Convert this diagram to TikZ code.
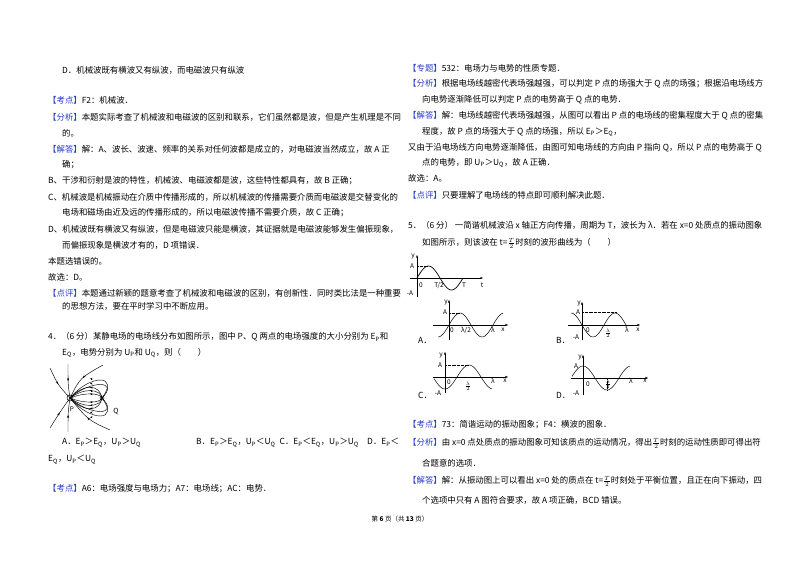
\documentclass[tikz,border=0pt]{standalone}
\usepackage{fontspec}
\setmainfont{Noto Sans CJK SC}
\usetikzlibrary{decorations.markings,arrows.meta}
\definecolor{lblue}{RGB}{40,60,200}
\tikzset{
  tl/.style={anchor=west,inner sep=0pt,font=\fontsize{8.4}{10}\selectfont},
  ax/.style={-{Stealth[length=3pt]},line width=0.5pt},
  wv/.style={line width=0.7pt},
  sm/.style={font=\fontsize{6.5}{7}\selectfont,inner sep=0.5pt},
  fl/.style={line width=0.45pt},
  fla/.style={line width=0.45pt,postaction={decorate},decoration={markings,mark=at position 0.5 with {\arrow{Stealth[length=3pt]}}}}
}
\newcommand{\tg}[1]{\textcolor{lblue}{【#1】}}
\newcommand{\hf}{\raisebox{0pt}[6pt][2pt]{$\frac{T}{2}$}}
\begin{document}
\begin{tikzpicture}[x=1pt,y=-1pt]
\useasboundingbox[fill=white] (0,0) rectangle (800,565);
% left column
\node[tl] (l1) at (62,70) {D．机械波既有横波又有纵波，而电磁波只有纵波};
\node[tl] (l2) at (48,100) {\tg{考点}F2：机械波．};
\node[tl] (l3) at (48,117) {\tg{分析}本题实际考查了机械波和电磁波的区别和联系，它们虽然都是波，但是产生机理是不同};
\node[tl] (l4) at (62,133) {的。};
\node[tl] (l5) at (48,149) {\tg{解答}解：A、波长、波速、频率的关系对任何波都是成立的，对电磁波当然成立，故 A 正};
\node[tl] (l6) at (62,165) {确；};
\node[tl] (l7) at (48,181) {B、干涉和衍射是波的特性，机械波、电磁波都是波，这些特性都具有，故 B 正确；};
\node[tl] (l8) at (48,197) {C、机械波是机械振动在介质中传播形成的，所以机械波的传播需要介质而电磁波是交替变化的};
\node[tl] (l9) at (62,213) {电场和磁场由近及远的传播形成的，所以电磁波传播不需要介质，故 C 正确；};
\node[tl] (l10) at (48,229) {D、机械波既有横波又有纵波，但是电磁波只能是横波，其证据就是电磁波能够发生偏振现象，};
\node[tl] (l11) at (62,245) {而偏振现象是横波才有的，D 项错误．};
\node[tl] (l12) at (48,261) {本题选错误的。};
\node[tl] (l13) at (48,277) {故选：D。};
\node[tl] (l14) at (48,293) {\tg{点评}本题通过新颖的题意考查了机械波和电磁波的区别，有创新性．同时类比法是一种重要};
\node[tl] (l15) at (62,306) {的思想方法，要在平时学习中不断应用。};
\node[tl] (l16) at (48,337) {4．（6 分）某静电场的电场线分布如图所示，图中 P、Q 两点的电场强度的大小分别为 E$_\mathrm{P}$和};
\node[tl] (l17) at (62,353) {E$_\mathrm{Q}$，电势分别为 U$_\mathrm{P}$和 U$_\mathrm{Q}$，则（\quad\quad）};
\node[tl] (l18) at (62,443) {A．E$_\mathrm{P}$＞E$_\mathrm{Q}$，U$_\mathrm{P}$＞U$_\mathrm{Q}$};
\node[tl] (l19) at (196,443) {B．E$_\mathrm{P}$＞E$_\mathrm{Q}$，U$_\mathrm{P}$＜U$_\mathrm{Q}$\enspace C．E$_\mathrm{P}$＜E$_\mathrm{Q}$，U$_\mathrm{P}$＞U$_\mathrm{Q}$\quad D．E$_\mathrm{P}$＜};
\node[tl] (l20) at (48,460) {E$_\mathrm{Q}$，U$_\mathrm{P}$＜U$_\mathrm{Q}$};
\node[tl] (l21) at (48,489) {\tg{考点}A6：电场强度与电场力；A7：电场线；AC：电势．};
% field lines figure
\coordinate (qa) at (70,398);
\coordinate (qb) at (102,398);
\draw[fill=white,line width=0.5pt] (qa) circle (3);
\draw[fill=white,line width=0.5pt] (qb) circle (2);
\draw[fla] (50,368) .. controls (58,385) .. (qa);
\draw[fla] (68,364) .. controls (68,385) .. (qa);
\draw[fla] (103,365) .. controls (80,378) .. (qa);
\draw[fla] (50,428) .. controls (60,412) .. (qa);
\draw[fla] (68,432) .. controls (68,412) .. (qa);
\draw[fla] (110,430) .. controls (88,420) .. (qa);
\foreach \h in {5,9,13}{
  \draw[fl] (qa) .. controls (85,398-\h*1.2) and (100,398-\h) .. (qb);
  \draw[fl] (qa) .. controls (85,398+\h*1.2) and (100,398+\h) .. (qb);
}
\foreach \h in {18,24}{
  \draw[fl] (qa) .. controls (90,398-\h) and (120,398-\h) .. (qb);
  \draw[fl] (qa) .. controls (90,398+\h) and (120,398+\h) .. (qb);
}
\foreach \h in {5,9,13,18,24}{
  \draw[-{Stealth[length=2.5pt]},line width=0.3pt] (91,398-\h*0.8) -- (90,398-\h*0.8);
  \draw[-{Stealth[length=2.5pt]},line width=0.3pt] (91,398+\h*0.8) -- (90,398+\h*0.8);
}
\node[sm] (lp) at (72,409) {P};
\node[font=\fontsize{7}{8}\selectfont,inner sep=0pt] (lq) at (116,412) {Q};
% right column
\node[tl] (r1) at (408,68) {\tg{专题}532：电场力与电势的性质专题．};
\node[tl] (r2) at (408,84) {\tg{分析}根据电场线越密代表场强越强，可以判定 P 点的场强大于 Q 点的场强；根据沿电场线方};
\node[tl] (r3) at (422,100) {向电势逐渐降低可以判定 P 点的电势高于 Q 点的电势．};
\node[tl] (r4) at (408,116) {\tg{解答}解：电场线越密代表场强越强，从图可以看出 P 点的电场线的密集程度大于 Q 点的密集};
\node[tl] (r5) at (422,132) {程度，故 P 点的场强大于 Q 点的场强，所以 E$_\mathrm{P}$＞E$_\mathrm{Q}$，};
\node[tl] (r6) at (408,148) {又由于沿电场线方向电势逐渐降低，由图可知电场线的方向由 P 指向 Q，所以 P 点的电势高于 Q};
\node[tl] (r7) at (422,163) {点的电势，即 U$_\mathrm{P}$＞U$_\mathrm{Q}$，故 A 正确．};
\node[tl] (r8) at (408,178) {故选：A。};
\node[tl] (r9) at (408,195) {\tg{点评}只要理解了电场线的特点即可顺利解决此题．};
\node[tl] (r10) at (408,225) {5．（6 分）\ 一简谐机械波沿 x 轴正方向传播，周期为 T，波长为 λ．若在 x=0 处质点的振动图象};
\node[tl] (r11) at (422,243) {如图所示，则该波在 t=\hf 时刻的波形曲线为（\quad\quad）};
% vibration graph
\draw[ax] (410,278) -- (483,278);
\draw[ax] (417,297) -- (417,255);
\draw[wv,domain=417:463,samples=40] plot (\x,{278-12*sin((\x-417)/46*360)});
\draw[densely dotted,line width=0.3pt] (417,266) -- (428,266);
\node[sm] at (413,256) {y};
\node[sm] at (412,266) {A};
\node[sm] at (410,293) {-A};
\node[sm] at (421,285) {0};
\node[sm] at (439,285) {T/2};
\node[sm] at (464,285) {T};
\node[sm] at (482,285) {t};
% graph A
\draw[ax,line width=0.3pt] (433,325) -- (508,325);
\draw[ax,line width=0.3pt] (449,340) -- (449,300);
\draw[line width=0.5pt,domain=438:503,samples=50] plot (\x,{325-12*sin((\x-449)/44*360)});
\draw[densely dotted,line width=0.3pt] (449,313) -- (460,313);
\node[sm] at (446,302) {y};
\node[sm] at (445,312) {A};
\node[sm] at (452,330) {0};
\node[sm] at (466,330) {λ/2};
\node[sm] at (493,330) {λ};
\node[sm] at (503,330) {x};
\node[tl] at (418,340) {A．};
% graph B
\draw[ax,line width=0.3pt] (568,325) -- (640,325);
\draw[ax,line width=0.3pt] (582,340) -- (582,302);
\draw[line width=0.5pt,domain=571:627,samples=50] plot (\x,{325+12*sin((\x-582)/44*360)});
\draw[densely dotted,line width=0.3pt] (582,312) -- (616,312);
\node[sm] at (579,303) {y};
\node[sm] at (578,312) {A};
\node[sm] at (576,337) {-A};
\node[sm] at (588,330) {0};
\node[sm,align=center] at (608,333) {$\frac{\lambda}{2}$};
\node[sm] at (627,330) {λ};
\node[sm] at (638,330) {x};
\node[tl] at (556,340) {B．};
% graph C
\draw[ax,line width=0.3pt] (433,377) -- (508,377);
\draw[ax,line width=0.3pt] (445,393) -- (445,352);
\draw[line width=0.5pt,domain=434:492,samples=50] plot (\x,{377+12*cos((\x-445)/48*360)});
\draw[densely dotted,line width=0.3pt] (445,365) -- (469,365);
\node[sm] at (441,355) {y};
\node[sm] at (440,365) {A};
\node[sm] at (438,393) {-A};
\node[sm] at (449,382) {0};
\node[sm] at (468,386) {$\frac{\lambda}{2}$};
\node[sm] at (493,381) {λ};
\node[sm] at (505,381) {x};
\node[tl] at (418,395) {C．};
% graph D
\draw[ax,line width=0.3pt] (571,378) -- (648,378);
\draw[ax,line width=0.3pt] (583,395) -- (583,355);
\draw[line width=0.5pt,domain=572:630,samples=50] plot (\x,{378-12*cos((\x-583)/48*360)});
\draw[densely dotted,line width=0.3pt] (607,378) -- (607,390);
\node[sm] at (580,357) {y};
\node[sm] at (576,366) {A};
\node[sm] at (576,393) {-A};
\node[sm] at (588,384) {0};
\node[sm] at (608,384) {$\frac{\lambda}{2}$};
\node[sm] at (631,381) {λ};
\node[sm] at (645,381) {x};
\node[tl] at (556,395) {D．};
% right bottom
\node[tl] (r12) at (408,425) {\tg{考点}73：简谐运动的振动图象；F4：横波的图象．};
\node[tl] (r13) at (408,443) {\tg{分析}由 x=0 点处质点的振动图象可知该质点的运动情况，得出\hf 时刻的运动性质即可得出符};
\node[tl] (r14) at (422,463) {合题意的选项．};
\node[tl] (r15) at (408,481) {\tg{解答}解：从振动图上可以看出 x=0 处的质点在 t=\hf 时刻处于平衡位置，且正在向下振动，四};
\node[tl] (r16) at (422,500) {个选项中只有 A 图符合要求，故 A 项正确，BCD 错误。};
\node[font=\fontsize{6.5}{7}\selectfont,inner sep=0pt] (ft) at (400,519) {第 \textbf{6} 页（共 \textbf{13} 页）};
\end{tikzpicture}
\end{document}
